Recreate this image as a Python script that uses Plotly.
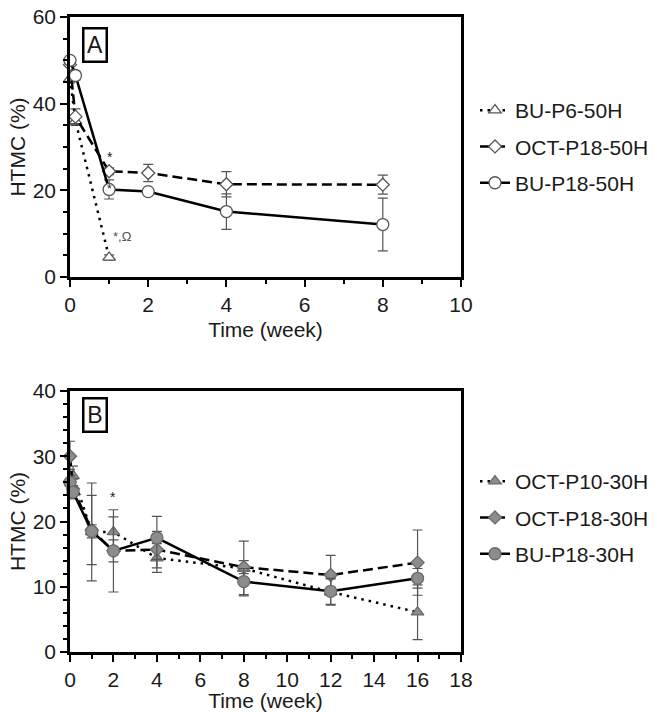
import plotly.graph_objects as go

# ---- Panel A: 50H samples ----
weeks_p6_50 = [0, 0.14, 1]
htmc_p6_50 = [45.8, 36.0, 4.5]
err_p6_50 = [1.0, 1.0, 0.6]

weeks_oct18_50 = [0, 0.14, 1, 2, 4, 8]
htmc_oct18_50 = [49.0, 37.0, 24.4, 24.0, 21.4, 21.3]
err_oct18_50 = [1.0, 1.8, 0.8, 2.0, 2.9, 2.2]

weeks_bu18_50 = [0, 0.14, 1, 2, 4, 8]
htmc_bu18_50 = [50.0, 46.5, 20.2, 19.7, 15.1, 12.1]
err_bu18_50 = [0.8, 1.0, 2.2, 0.5, 4.1, 6.1]

# ---- Panel B: 30H samples ----
weeks_30 = [0, 0.14, 1, 2, 4, 8, 12, 16]
htmc_oct10_30 = [26.5, 27.0, 18.4, 18.4, 14.4, 12.8, 9.2, 6.1]
err_oct10_30 = [1.5, 1.5, 7.5, 2.3, 2.2, 4.2, 2.0, 4.2]
htmc_oct18_30 = [30.0, 25.0, 18.7, 15.5, 15.7, 13.0, 11.8, 13.7]
err_oct18_30 = [2.3, 1.5, 5.3, 1.7, 2.8, 1.0, 3.0, 5.0]
htmc_bu18_30 = [26.0, 24.5, 18.5, 15.5, 17.5, 10.8, 9.3, 11.3]
err_bu18_30 = [1.0, 1.0, 1.0, 6.3, 3.3, 2.0, 2.0, 1.5]

FONT = "Liberation Sans, Arial, sans-serif"
FS = 21
INK = "#1a1a1a"
ERR = "#555555"
EDGE_A = "#555555"
FILL_B = "#8c8c8c"
EDGE_B = "#6a6a6a"
DOT = "2.5px,5px"
DASH = "10px,5px"


def series(x, y, err, name, dash, symbol, size, fill, edge, xa, ya, legend):
    return go.Scatter(
        x=x, y=y, name=name, mode="lines+markers",
        xaxis=xa, yaxis=ya, legend=legend, legendgroup=name,
        cliponaxis=False,
        line=dict(color="black", width=2.5, dash=dash),
        marker=dict(symbol=symbol, size=size, color=fill,
                    line=dict(color=edge, width=1.3)),
        error_y=dict(type="data", array=err, visible=True,
                     color=ERR, thickness=1.2, width=5),
    )


fig = go.Figure()
fig.add_trace(series(weeks_p6_50, htmc_p6_50, err_p6_50, "BU-P6-50H", DOT,
                     "triangle-up", 11, "white", EDGE_A, "x", "y", "legend"))
fig.add_trace(series(weeks_oct18_50, htmc_oct18_50, err_oct18_50, "OCT-P18-50H", DASH,
                     "diamond", 10, "white", EDGE_A, "x", "y", "legend"))
fig.add_trace(series(weeks_bu18_50, htmc_bu18_50, err_bu18_50, "BU-P18-50H", "solid",
                     "circle", 12, "white", EDGE_A, "x", "y", "legend"))

fig.add_trace(series(weeks_30, htmc_oct10_30, err_oct10_30, "OCT-P10-30H", DOT,
                     "triangle-up", 11, FILL_B, EDGE_B, "x2", "y2", "legend2"))
fig.add_trace(series(weeks_30, htmc_oct18_30, err_oct18_30, "OCT-P18-30H", DASH,
                     "diamond", 10, FILL_B, EDGE_B, "x2", "y2", "legend2"))
fig.add_trace(series(weeks_30, htmc_bu18_30, err_bu18_30, "BU-P18-30H", "solid",
                     "circle", 12, FILL_B, EDGE_B, "x2", "y2", "legend2"))

axis_common = dict(
    showline=True, linecolor="black", linewidth=2.5, mirror=True,
    ticks="outside", ticklen=7, tickwidth=2, tickcolor="black",
    showgrid=False, zeroline=False, automargin=False,
    tickfont=dict(family=FONT, size=FS, color=INK),
)
title_font = dict(family=FONT, size=FS, color=INK)
minor_style = dict(ticks="outside", ticklen=4, tickwidth=2, tickcolor="black")

fig.update_layout(
    width=655, height=712,
    margin=dict(l=70, r=194, t=17, b=60),
    paper_bgcolor="white", plot_bgcolor="white",
    font=dict(family=FONT, color=INK),
    xaxis=dict(domain=[0, 1], anchor="y", range=[0, 10], tick0=0, dtick=2,
               minor=dict(dtick=1, **minor_style),
               title=dict(text="Time (week)", font=title_font, standoff=8),
               **axis_common),
    yaxis=dict(domain=[0.5906, 1.0], anchor="x", range=[0, 60], tick0=0, dtick=20,
               minor=dict(dtick=5, **minor_style),
               title=dict(text="HTMC (%)", font=title_font, standoff=2),
               **axis_common),
    xaxis2=dict(domain=[0, 1], anchor="y2", range=[0, 18], tick0=0, dtick=2,
                minor=dict(dtick=1, **minor_style),
                title=dict(text="Time (week)", font=title_font, standoff=6),
                **axis_common),
    yaxis2=dict(domain=[0, 0.411], anchor="x2", range=[0, 40], tick0=0, dtick=10,
                minor=dict(dtick=2, **minor_style),
                title=dict(text="HTMC (%)", font=title_font, standoff=2),
                **axis_common),
    legend=dict(xref="container", yref="container",
                x=475 / 655, xanchor="left", y=1 - 90 / 712, yanchor="top",
                font=dict(family=FONT, size=FS, color=INK),
                tracegroupgap=6, bgcolor="rgba(0,0,0,0)"),
    legend2=dict(xref="container", yref="container",
                 x=475 / 655, xanchor="left", y=1 - 461 / 712, yanchor="top",
                 font=dict(family=FONT, size=FS, color=INK),
                 tracegroupgap=6, bgcolor="rgba(0,0,0,0)"),
    showlegend=True,
)

# panel letters in boxes
for lab, xr, yr, yd in [("A", "x domain", "y domain", 0.894), ("B", "x2 domain", "y2 domain", 0.91)]:
    fig.add_annotation(text=lab, xref=xr, yref=yr, x=0.064, y=yd,
                       xanchor="center", yanchor="middle",
                       showarrow=False, font=dict(family=FONT, size=23, color=INK),
                       bordercolor="black", borderwidth=2.5, borderpad=2,
                       width=17, height=27, bgcolor="white")

# significance marks
marks = [
    ("*", 1.03, 27.8, "x", "y", 14, INK),
    ("*", 1.0, 20.3, "x", "y", 12, INK),
    ("*,Ω", 1.33, 9.3, "x", "y", 13, ERR),
    ("*", 2.0, 23.8, "x2", "y2", 14, INK),
]
for txt, xv, yv, xr, yr, sz, col in marks:
    fig.add_annotation(text=txt, x=xv, y=yv, xref=xr, yref=yr, showarrow=False,
                       font=dict(family=FONT, size=sz, color=col))

fig.write_html("out.html")
